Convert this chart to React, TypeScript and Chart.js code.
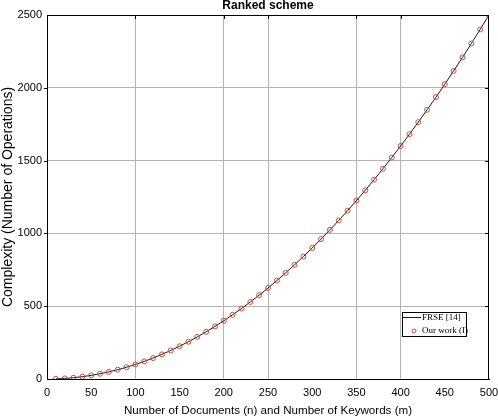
import React, { useEffect, useRef } from "react";
import { Chart, registerables } from "chart.js";

Chart.register(...registerables);

// Problem size n = m
const sizes = [
  10, 20, 30, 40, 50, 60, 70, 80, 90, 100,
  110, 120, 130, 140, 150, 160, 170, 180, 190, 200,
  210, 220, 230, 240, 250, 260, 270, 280, 290, 300,
  310, 320, 330, 340, 350, 360, 370, 380, 390, 400,
  410, 420, 430, 440, 450, 460, 470, 480, 490, 500,
];

// Operation counts for FRSE [14]
const frseOps = [
  1, 4, 9, 16, 25, 36, 49, 64, 81, 100,
  121, 144, 169, 196, 225, 256, 289, 324, 361, 400,
  441, 484, 529, 576, 625, 676, 729, 784, 841, 900,
  961, 1024, 1089, 1156, 1225, 1296, 1369, 1444, 1521, 1600,
  1681, 1764, 1849, 1936, 2025, 2116, 2209, 2304, 2401, 2500,
];

// Operation counts for our work (I)
const ourOps = [
  1, 4, 9, 16, 25, 36, 49, 64, 81, 100,
  121, 144, 169, 196, 225, 256, 289, 324, 361, 400,
  441, 484, 529, 576, 625, 676, 729, 784, 841, 900,
  961, 1024, 1089, 1156, 1225, 1296, 1369, 1444, 1521, 1600,
  1681, 1764, 1849, 1936, 2025, 2116, 2209, 2304, 2401, 2500,
];

const seriesLabels = ["FRSE [14]", "Our work (I)"];
const chartTitle = "Ranked scheme";
const xTitle = "Number of Documents (n) and Number of Keywords (m)";
const yTitle = "Complexity (Number of Operations)";

// Grid lines shown on each axis
const xGridValues = [100, 200, 250, 350, 400];
const yGridValues = [500, 1000, 1500, 2000];

const LINE_COLOR = "#111a33";
const MARKER_COLOR = "#c8502d";
const GRID_COLOR = "#b4b4b4";
const TICK_FONT = "Arial, 'Liberation Sans', sans-serif";
const LABEL_FONT = "Arial, 'Liberation Sans', sans-serif";

const framePlugin = {
  id: "frame",
  afterDraw(chart: any) {
    const { ctx, chartArea } = chart;
    const { left, right, top, bottom } = chartArea;
    const xs = chart.scales.x;
    const ys = chart.scales.y;
    ctx.save();
    ctx.strokeStyle = "#000";
    ctx.lineWidth = 1;
    ctx.beginPath();
    ctx.moveTo(left, top + 0.5);
    ctx.lineTo(right, top + 0.5);
    ctx.moveTo(right - 0.5, top);
    ctx.lineTo(right - 0.5, bottom);
    // inward ticks on the top and right edges, outward ticks on the left
    xGridValues.forEach((v) => {
      const px = Math.round(xs.getPixelForValue(v)) + 0.5;
      ctx.moveTo(px, top);
      ctx.lineTo(px, top + 4);
    });
    yGridValues.forEach((v) => {
      const py = Math.round(ys.getPixelForValue(v)) + 0.5;
      ctx.moveTo(right, py);
      ctx.lineTo(right - 4, py);
      ctx.moveTo(left, py);
      ctx.lineTo(left - 3, py);
    });
    ctx.stroke();

    // title
    ctx.fillStyle = "#000";
    ctx.font = `bold 12px ${LABEL_FONT}`;
    ctx.textAlign = "center";
    ctx.textBaseline = "alphabetic";
    ctx.fillText(chartTitle, (left + right) / 2, 9);

    // axis titles
    ctx.font = `11.6px ${LABEL_FONT}`;
    ctx.textBaseline = "middle";
    ctx.fillText(xTitle, (left + right) / 2, 411);
    ctx.save();
    ctx.translate(8.5, (top + bottom) / 2);
    ctx.rotate(-Math.PI / 2);
    ctx.font = `14px ${LABEL_FONT}`;
    ctx.fillText(yTitle, 0, 0);
    ctx.restore();

    // legend box
    const bx = 402, by = 312, bw = 65, bh = 25;
    ctx.fillStyle = "#fff";
    ctx.fillRect(bx, by, bw, bh);
    ctx.strokeStyle = "#000";
    ctx.strokeRect(bx + 0.5, by + 0.5, bw - 1, bh - 1);
    ctx.beginPath();
    ctx.moveTo(bx + 1, by + 5.5);
    ctx.lineTo(bx + 19, by + 5.5);
    ctx.strokeStyle = LINE_COLOR;
    ctx.stroke();
    ctx.beginPath();
    ctx.arc(bx + 12, by + 19, 2, 0, Math.PI * 2);
    ctx.strokeStyle = MARKER_COLOR;
    ctx.stroke();
    ctx.fillStyle = "#000";
    ctx.font = "9px 'Liberation Serif', 'Times New Roman', serif";
    ctx.textAlign = "left";
    ctx.textBaseline = "middle";
    ctx.fillText(seriesLabels[0], bx + 20, by + 6);
    ctx.fillText(seriesLabels[1], bx + 20, by + 19);
    ctx.restore();
  },
};

export default function App() {
  const canvasRef = useRef<HTMLCanvasElement | null>(null);

  useEffect(() => {
    if (!canvasRef.current) return;
    const chart = new Chart(canvasRef.current, {
      type: "line",
      data: {
        datasets: [
          {
            label: seriesLabels[1],
            data: sizes.map((x, i) => ({ x, y: ourOps[i] })),
            showLine: false,
            pointRadius: 2.5,
            pointBorderWidth: 1,
            pointBorderColor: MARKER_COLOR,
            pointBackgroundColor: "rgba(0,0,0,0)",
            borderColor: MARKER_COLOR,
            order: 0,
          },
          {
            label: seriesLabels[0],
            data: sizes.map((x, i) => ({ x, y: frseOps[i] })),
            borderColor: LINE_COLOR,
            borderWidth: 1,
            pointRadius: 0,
            tension: 0,
            order: 1,
          },
        ],
      },
      options: {
        animation: false,
        responsive: false,
        maintainAspectRatio: false,
        layout: { padding: { top: 15, right: 9, left: 0, bottom: 0 } },
        plugins: {
          legend: { display: false },
          title: { display: false },
          tooltip: { enabled: false },
        },
        scales: {
          x: {
            type: "linear",
            min: 0,
            max: 500,
            ticks: {
              stepSize: 50,
              padding: 7,
              color: "#000",
              font: { family: TICK_FONT, size: 11 },
              maxRotation: 0,
              callback: (v: any) => String(v),
            },
            grid: {
              drawTicks: false,
              color: (c: any) =>
                xGridValues.includes(c.tick?.value) ? GRID_COLOR : "rgba(0,0,0,0)",
            },
            border: { display: true, color: "#000", width: 1 },
            afterFit: (s: any) => {
              s.height = 39;
              s.paddingLeft = 0;
              s.paddingRight = 0;
            },
          },
          y: {
            type: "linear",
            min: 0,
            max: 2500,
            ticks: {
              stepSize: 500,
              padding: 5,
              color: "#000",
              font: { family: TICK_FONT, size: 11 },
              callback: (v: any) => String(v),
            },
            grid: {
              drawTicks: false,
              color: (c: any) =>
                yGridValues.includes(c.tick?.value) ? GRID_COLOR : "rgba(0,0,0,0)",
            },
            border: { display: true, color: "#000", width: 1 },
            afterFit: (s: any) => {
              s.width = 47;
              s.paddingTop = 0;
              s.paddingBottom = 0;
            },
          },
        },
      },
      plugins: [framePlugin],
    });
    return () => chart.destroy();
  }, []);

  return (
    <div style={{ position: "absolute", left: 0, top: 0, width: 498, height: 418, background: "#fff" }}>
      <canvas ref={canvasRef} width={498} height={418} />
    </div>
  );
}
